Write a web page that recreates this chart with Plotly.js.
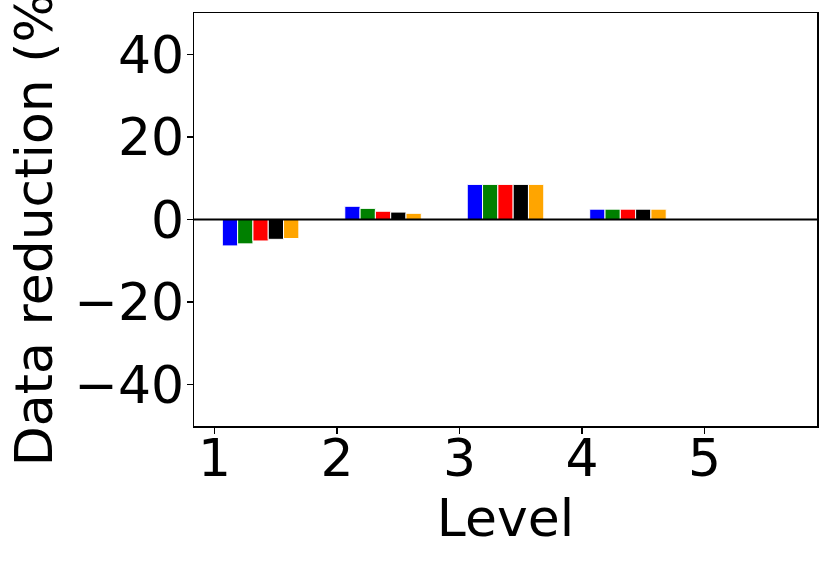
<!DOCTYPE html>
<html>
<head>
<meta charset="utf-8">
<script src="https://cdn.plot.ly/plotly-3.0.1.min.js"></script>
<style>html,body{margin:0;padding:0;background:#fff;}#chart{width:831px;height:561px;}</style>
</head>
<body>
<div id="chart"></div>
<script>
const levels = [1, 2, 3, 4, 5];
const tickLabels = ["1", "2", "3", "4", "5"];
const seriesBlue = [-6.4, 3.2, 8.5, 2.5, 0];
const seriesGreen = [-5.9, 2.7, 8.5, 2.5, 0];
const seriesRed = [-5.2, 2.0, 8.5, 2.5, 0];
const seriesBlack = [-4.8, 1.8, 8.5, 2.5, 0];
const seriesOrange = [-4.6, 1.5, 8.5, 2.5, 0];

const series = [seriesBlue, seriesGreen, seriesRed, seriesBlack, seriesOrange];
const colors = ["blue", "green", "red", "black", "orange"];
const barW = 0.125;

const traces = series.map((vals, i) => ({
  type: "bar",
  x: levels,
  y: vals,
  width: barW,
  offset: barW * i + barW / 2,
  marker: {color: colors[i], line: {color: "white", width: 1}},
  showlegend: false,
  hoverinfo: "skip"
}));

const font = {family: "DejaVu Sans", size: 52, color: "black"};

const layout = {
  width: 831, height: 561,
  margin: {l: 194, r: 14, t: 13, b: 135, pad: 0},
  paper_bgcolor: "white", plot_bgcolor: "white",
  barmode: "overlay",
  font: font,
  xaxis: {
    range: [0.83125, 5.91875],
    tickmode: "array", tickvals: levels, ticktext: tickLabels,
    ticks: "outside", ticklen: 6, tickwidth: 1.5, tickcolor: "black",
    ticklabelstandoff: -20,
    showline: true, mirror: true, linecolor: "black", linewidth: 1.5,
    showgrid: false, zeroline: false,
    tickfont: font,
    title: {text: "Level", font: font, standoff: 3}
  },
  yaxis: {
    range: [-50, 50],
    tickmode: "array", tickvals: [-40, -20, 0, 20, 40], ticktext: ["\u221240", "\u221220", "0", "20", "40"],
    ticks: "outside", ticklen: 6, tickwidth: 1.5, tickcolor: "black",
    ticklabelstandoff: -8,
    showline: true, mirror: true, linecolor: "black", linewidth: 1.5,
    showgrid: false, zeroline: false,
    tickfont: font,
    title: {text: "Data reduction (%)", font: font, standoff: 5}
  },
  shapes: [{
    type: "line", xref: "paper", yref: "y", x0: 0, x1: 1, y0: 0, y1: 0,
    line: {color: "black", width: 2}, layer: "above"
  }]
};

Plotly.newPlot("chart", traces, layout, {staticPlot: true, displayModeBar: false});
</script>
</body>
</html>
